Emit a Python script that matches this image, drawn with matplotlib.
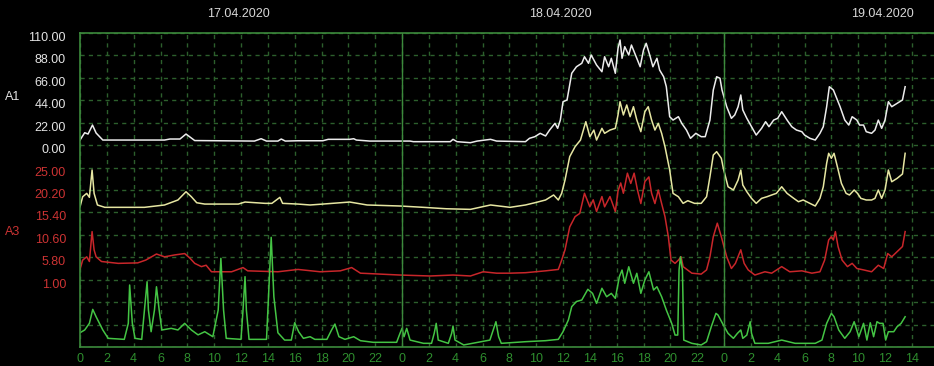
import matplotlib
matplotlib.use("Agg")
from matplotlib import pyplot as plt
from matplotlib import transforms
import numpy as np

plt.rcParams['font.family'] = ['Liberation Sans', 'DejaVu Sans']

# ---- data (hours counted from 17.04.2020 00:00)
a1_hours = [0.0, 0.35, 0.6, 0.93, 1.2, 1.7, 6.3, 6.7, 7.45, 7.9, 8.55, 13.0, 13.5, 13.9, 14.75, 15.0, 15.3,
            16.25, 18.1, 18.5, 20.1, 20.4, 20.6, 21.6, 24.6, 24.85, 27.6, 27.8, 28.1, 29.1, 29.6, 30.6, 31.05,
            33.2, 33.5, 33.9, 34.3, 34.7, 35.0, 35.4, 35.6, 35.8, 36.0, 36.3, 36.65, 37.0, 37.4, 37.6, 37.9,
            38.1, 38.5, 38.9, 39.1, 39.4, 39.6, 39.9, 40.1, 40.25, 40.4, 40.6, 40.9, 41.1, 41.5, 41.75, 42.0,
            42.2, 42.5, 42.7, 43.0, 43.2, 43.5, 43.7, 43.95, 44.2, 44.6, 44.85, 45.2, 45.5, 45.9, 46.3, 46.6,
            46.95, 47.2, 47.45, 47.7, 47.85, 48.2, 48.55, 48.8, 49.05, 49.25, 49.4, 49.7, 50.05, 50.4, 50.8,
            51.1, 51.35, 51.7, 52.0, 52.3, 52.7, 53.05, 53.4, 53.8, 54.0, 54.4, 54.8, 55.15, 55.4, 55.65,
            55.85, 56.15, 56.4, 56.65, 57.0, 57.3, 57.55, 57.9, 58.1, 58.4, 58.6, 59.0, 59.25, 59.5, 59.75,
            60.0, 60.25, 60.5, 60.9, 61.3, 61.5]
a1_values = [5.0, 12.2, 10.9, 19.7, 11.9, 5.0, 5.0, 6.0, 6.0, 10.9, 4.5, 4.0, 6.3, 4.0, 4.0, 6.0, 4.0,
             4.3, 4.3, 5.7, 5.7, 6.3, 5.0, 4.0, 4.0, 3.4, 3.4, 5.7, 3.4, 2.4, 4.0, 5.7, 4.0,
             3.4, 6.7, 8.3, 11.6, 9.0, 14.8, 21.4, 16.5, 24.6, 42.6, 44.3, 70.5, 76.9, 80.3, 86.7, 80.3,
             88.4, 78.6, 72.0, 86.7, 76.9, 85.2, 70.5, 95.0, 103.1, 85.2, 96.6, 88.4, 98.2, 85.2, 76.9, 93.3,
             99.9, 86.7, 76.9, 85.2, 73.7, 67.1, 57.3, 27.9, 24.6, 27.9, 21.4, 14.8, 6.7, 11.6, 8.3, 8.3,
             24.6, 54.1, 67.1, 65.6, 54.1, 37.7, 26.3, 29.6, 37.7, 49.2, 34.5, 26.3, 18.1, 9.9, 16.5,
             23.0, 18.1, 24.6, 26.3, 32.8, 24.6, 18.1, 14.8, 13.2, 9.9, 6.7, 5.0, 11.6, 18.1, 37.7,
             57.3, 54.1, 45.9, 37.7, 24.6, 19.7, 27.9, 24.6, 19.7, 19.7, 13.2, 11.6, 14.8, 24.6, 16.5,
             24.6, 42.6, 37.7, 41.0, 44.3, 57.3]

a2_hours = [0.0, 0.2, 0.5, 0.7, 0.9, 1.05, 1.3, 1.85, 4.8, 6.3, 7.3, 7.9, 8.3, 8.7, 9.3, 11.8, 12.3, 13.8,
            14.3, 14.9, 15.1, 16.25, 17.15, 18.1, 19.4, 20.1, 21.4, 23.85, 25.6, 27.3, 29.1, 30.6, 32.05,
            33.2, 33.9, 34.7, 35.3, 35.65, 35.9, 36.15, 36.5, 36.9, 37.3, 37.7, 38.0, 38.3, 38.5, 38.9, 39.1,
            39.5, 39.9, 40.1, 40.25, 40.5, 40.75, 41.0, 41.25, 41.5, 41.8, 42.1, 42.35, 42.6, 42.85, 43.1,
            43.35, 43.6, 43.95, 44.2, 44.6, 44.95, 45.3, 45.8, 46.3, 46.7, 46.95, 47.2, 47.45, 47.8, 47.95,
            48.3, 48.7, 49.05, 49.25, 49.4, 49.7, 50.05, 50.4, 50.8, 51.2, 51.55, 51.9, 52.3, 52.7, 53.2,
            53.55, 53.9, 54.4, 54.8, 55.15, 55.4, 55.65, 55.8, 56.0, 56.2, 56.45, 56.75, 57.1, 57.35, 57.7,
            57.95, 58.2, 58.6, 59.0, 59.25, 59.5, 59.75, 60.0, 60.25, 60.5, 60.9, 61.3, 61.5]
a2_values = [5.6, 15.4, 18.7, 14.8, 41.6, 18.7, 7.3, 5.0, 5.0, 7.3, 12.2, 20.3, 15.4, 9.5, 8.2, 8.2, 10.2, 8.9,
             8.9, 14.8, 8.9, 8.2, 7.3, 8.2, 9.5, 10.2, 7.3, 6.3, 5.0, 3.6, 3.0, 7.3, 5.0,
             7.3, 9.5, 12.2, 17.1, 12.2, 18.7, 31.8, 54.7, 64.5, 71.0, 89.0, 74.3, 80.8, 71.0, 82.5, 77.6,
             80.8, 82.5, 95.6, 108.6, 95.6, 105.4, 93.9, 103.7, 90.7, 79.2, 98.8, 103.7, 90.7, 80.8, 87.4,
             77.6, 64.5, 41.6, 18.7, 15.4, 8.9, 11.5, 8.9, 8.9, 15.4, 35.0, 56.3, 59.6, 53.1, 43.3,
             25.2, 22.0, 31.8, 41.6, 26.9, 20.3, 13.8, 8.9, 13.8, 15.4, 17.1, 18.7, 25.2, 18.7, 13.8,
             10.5, 12.2, 8.9, 6.3, 13.8, 25.2, 48.2, 58.0, 53.1, 58.0, 44.8, 28.5, 18.7, 17.1, 22.0,
             18.7, 13.8, 12.2, 12.2, 13.8, 22.0, 13.8, 22.0, 41.6, 30.1, 33.4, 37.7, 58.0]

a3_hours = [0.0, 0.2, 0.5, 0.7, 0.9, 1.05, 1.2, 1.6, 2.85, 4.3, 4.9, 5.7, 6.3, 7.05, 7.8, 8.2, 8.55, 9.05,
            9.4, 9.8, 11.3, 12.15, 12.5, 14.75, 16.25, 17.9, 19.4, 20.25, 20.9, 23.85, 26.1, 27.8, 29.1,
            30.05, 31.05, 32.05, 33.2, 34.7, 35.65, 35.9, 36.15, 36.5, 36.9, 37.25, 37.6, 38.0, 38.25, 38.5,
            38.9, 39.1, 39.5, 39.9, 40.1, 40.3, 40.5, 40.8, 41.05, 41.3, 41.55, 41.8, 42.1, 42.4, 42.6,
            42.85, 43.1, 43.35, 43.6, 43.85, 44.05, 44.35, 44.6, 44.8, 44.95, 45.6, 46.3, 46.7, 46.95, 47.2,
            47.5, 47.8, 48.2, 48.55, 48.85, 49.25, 49.5, 49.8, 50.3, 51.05, 51.55, 52.3, 52.9, 53.8, 54.55,
            55.15, 55.5, 55.8, 56.0, 56.15, 56.3, 56.5, 56.8, 57.2, 57.55, 57.9, 58.4, 59.0, 59.5, 59.9,
            60.2, 60.5, 60.9, 61.3, 61.5]
a3_values = [3.2, 5.2, 5.9, 4.9, 11.3, 7.4, 5.9, 4.9, 4.5, 4.6, 5.2, 6.5, 5.9, 6.3, 6.6, 5.6, 4.5, 3.8,
             4.1, 2.7, 2.7, 3.6, 2.9, 2.7, 3.2, 2.7, 2.9, 3.6, 2.4, 2.0, 1.8, 2.0, 1.8,
             2.7, 2.4, 2.4, 2.5, 2.9, 3.2, 5.2, 7.4, 12.3, 14.5, 15.2, 19.5, 16.6, 18.1, 15.6,
             18.8, 16.6, 18.8, 15.6, 20.0, 21.7, 19.5, 23.8, 21.6, 23.8, 20.2, 17.3, 22.0, 23.0, 19.5,
             17.3, 20.2, 17.3, 14.5, 10.2, 5.2, 4.5, 5.2, 5.9, 3.8, 2.4, 2.2, 3.1, 5.9, 10.2,
             13.1, 10.2, 5.9, 3.4, 4.5, 7.4, 4.5, 3.1, 2.0, 2.7, 2.4, 3.8, 2.7, 2.9, 2.4,
             2.7, 5.2, 9.5, 10.2, 9.5, 11.3, 8.1, 5.2, 3.8, 4.5, 3.4, 3.1, 2.7, 4.1, 3.4,
             6.6, 5.9, 7.0, 8.1, 11.3]

a4_hours = [0.0, 0.35, 0.7, 0.95, 1.2, 1.7, 2.1, 3.3, 3.6, 3.7, 3.9, 4.1, 4.6, 4.8, 5.0, 5.1, 5.3, 5.55,
            5.7, 5.9, 6.1, 6.8, 7.3, 7.8, 8.3, 8.8, 9.3, 9.9, 10.3, 10.5, 10.7, 10.9, 12.0, 12.15, 12.3,
            12.4, 12.6, 13.9, 14.05, 14.25, 14.45, 14.75, 15.25, 15.75, 16.0, 16.3, 16.65, 17.15, 17.5,
            18.4, 18.75, 19.0, 19.3, 19.75, 20.4, 20.9, 21.85, 23.6, 23.85, 24.0, 24.15, 24.35, 24.6, 25.6,
            26.2, 26.4, 26.55, 26.7, 27.45, 27.7, 27.8, 27.95, 28.6, 29.55, 30.55, 30.8, 31.0, 31.2, 31.4,
            33.2, 34.7, 35.65, 36.0, 36.4, 36.65, 37.0, 37.4, 37.85, 38.2, 38.5, 38.9, 39.25, 39.6, 39.9,
            40.2, 40.4, 40.6, 40.9, 41.25, 41.5, 41.8, 42.1, 42.4, 42.75, 43.0, 43.35, 43.7, 44.1, 44.35,
            44.55, 44.65, 44.75, 44.9, 45.0, 45.6, 46.3, 46.7, 47.05, 47.4, 47.55, 47.95, 48.3, 48.7, 49.0,
            49.25, 49.4, 49.7, 49.95, 50.05, 50.3, 51.3, 52.3, 53.3, 54.8, 55.3, 55.65, 56.0, 56.2, 56.55,
            57.0, 57.4, 57.7, 58.05, 58.4, 58.65, 58.9, 59.15, 59.4, 59.6, 59.85, 60.05, 60.25, 60.65,
            60.9, 61.2, 61.5]
a4_values = [14.0, 16.7, 23.2, 36.9, 29.7, 16.7, 8.5, 7.5, 23.2, 60.8, 23.2, 8.5, 7.5, 36.3, 64.0, 36.3, 15.0, 36.3,
             59.1, 36.3, 16.7, 18.3, 16.7, 23.2, 16.7, 11.9, 15.0, 10.1, 36.3, 87.0, 36.3, 8.5, 7.5, 36.3, 69.0,
             36.3, 7.5, 7.5, 49.3, 107.6, 49.3, 14.0, 6.8, 6.8, 23.8, 14.9, 8.5, 10.1, 7.5,
             7.5, 16.7, 22.5, 10.1, 7.5, 10.1, 6.2, 4.6, 4.6, 13.4, 18.3, 10.1, 18.3, 6.8, 3.6,
             3.6, 13.4, 23.2, 6.8, 3.6, 13.4, 20.6, 6.8, 2.0, 4.3, 6.8, 16.7, 24.8, 10.1, 3.6,
             5.2, 6.2, 7.5, 15.0, 26.5, 39.6, 44.6, 46.1, 56.6, 52.6, 42.8, 57.6, 49.3, 52.6, 47.7,
             69.0, 75.5, 62.5, 78.7, 62.5, 72.3, 52.6, 65.7, 73.8, 55.9, 59.1, 49.3, 36.3, 23.2, 11.7,
             11.7, 75.5, 88.5, 75.5, 6.8, 3.6, 2.0, 5.2, 19.9, 33.0, 31.4, 21.6, 13.4, 8.5, 13.4,
             16.7, 8.5, 11.7, 24.8, 13.4, 3.6, 3.6, 6.8, 3.6, 3.6, 6.8, 23.2, 33.0, 29.7, 16.7,
             8.5, 15.0, 24.8, 10.1, 23.2, 6.8, 23.8, 10.1, 24.8, 23.2, 23.2, 6.8, 15.0, 15.0,
             19.9, 23.2, 29.7]

a1_ticks = [110.0, 88.0, 66.0, 44.0, 22.0, 0.0]
a3_ticks = [25.0, 20.2, 15.4, 10.6, 5.8, 1.0]
dates = ['17.04.2020', '18.04.2020', '19.04.2020']

# ---- each trace has its own band on the common scale (A1 units)
def pos_a1(v):
    return np.asarray(v)

def pos_a2(v):
    return np.asarray(v) - 66

def pos_a3(v):
    return -22 + (np.asarray(v) - 25) * 22 / 4.8

def pos_a4(v):
    return np.asarray(v) - 198

BG = 'black'
GRID = '#2c5f2c'
SOLID = '#3c8a3c'

fig = plt.figure(figsize=(9.34, 3.66), dpi=100, facecolor=BG)
ax = fig.add_axes([80 / 934, 19 / 366, 854 / 934, 314 / 366], facecolor=BG)

x_max = 854 / 13.417
ax.set_xlim(0, x_max)
ax.set_ylim(-198, 110)

ax.plot(a1_hours, pos_a1(a1_values), color='#ececec', lw=1.1)
ax.plot(a2_hours, pos_a2(a2_values), color='#e6e6a2', lw=1.1)
ax.plot(a3_hours, pos_a3(a3_values), color='#c8262a', lw=1.1)
ax.plot(a4_hours, pos_a4(a4_values), color='#44c444', lw=1.1)

# grid
xt = np.arange(0, 64, 2)
ax.set_xticks(xt)
ax.set_xticklabels([str(int(h) % 24) for h in xt])
ax.set_yticks(np.arange(-198, 111, 22))
ax.set_yticklabels([])
ax.grid(True, color=GRID, linestyle=(0, (3, 3)), linewidth=1)
ax.tick_params(length=0, labelsize=9, colors='#2e8e2e', pad=4)
for d in (24, 48):
    ax.axvline(d, color=SOLID, lw=1)
for s in ('left', 'top', 'bottom'):
    ax.spines[s].set_color(SOLID)
    ax.spines[s].set_linewidth(1.2)
ax.spines['right'].set_visible(False)

# y labels, drawn just under each grid line
lab_tr = transforms.offset_copy(ax.get_yaxis_transform(), fig=fig, x=-14, y=-5, units='dots')
for v in a1_ticks:
    ax.text(0, pos_a1(v), f'{v:.2f}', transform=lab_tr, ha='right', va='center',
            fontsize=9, color='#e4e4e4', clip_on=False)
for v in a3_ticks:
    ax.text(0, pos_a3(v), f'{v:.2f}', transform=lab_tr, ha='right', va='center',
            fontsize=9, color='#cc3333', clip_on=False)
fig.text(5 / 934, 1 - 97 / 366, 'A1', ha='left', va='center', fontsize=9, color='#e4e4e4')
fig.text(5 / 934, 1 - 232 / 366, 'A3', ha='left', va='center', fontsize=9, color='#cc3333')

# day labels
date_tr = transforms.blended_transform_factory(ax.transData, fig.transFigure)
for i, d in enumerate(dates):
    xc = min(i * 24 + 11.8, x_max - 3.2)
    ax.text(xc, 1 - 14 / 366, d, transform=date_tr, ha='center', va='center',
            fontsize=9, color='#d8d8d8', clip_on=False)

fig.savefig('out.png', dpi=100, facecolor=BG)
